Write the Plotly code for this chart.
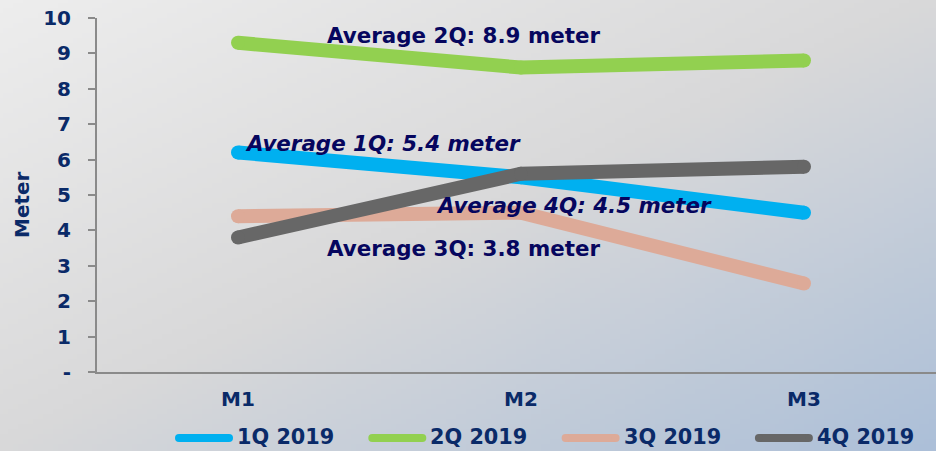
import base64
import struct
import zlib

import plotly.graph_objects as go

# ---- data -------------------------------------------------------------
months = ["M1", "M2", "M3"]
series_names = ["1Q 2019", "2Q 2019", "3Q 2019", "4Q 2019"]
q1_values = [6.2, 5.5, 4.5]
q2_values = [9.3, 8.6, 8.8]
q3_values = [4.4, 4.5, 2.5]
q4_values = [3.8, 5.6, 5.8]
y_tick_values = [0, 1, 2, 3, 4, 5, 6, 7, 8, 9, 10]
y_tick_labels = ["-", "1", "2", "3", "4", "5", "6", "7", "8", "9", "10"]
average_labels = [
    "Average 2Q: 8.9 meter",
    "Average 1Q: 5.4 meter",
    "Average 4Q: 4.5 meter",
    "Average 3Q: 3.8 meter",
]

# ---- styling ----------------------------------------------------------
W, H = 936, 451
series_colors = ["#00B0F0", "#92D050", "#DDAA98", "#676767"]
label_color = "#0A2A68"
note_color = "#06065E"
axis_color = "#8A8A8A"
font_family = "DejaVu Sans, Verdana, sans-serif"


def frac_x(x):
    return x / W


def frac_y(y):
    return 1 - y / H


def gradient_png(w, h):
    """Diagonal background: light grey top-left -> grey -> soft blue bottom-right."""
    stops = [(0.0, (237, 237, 237)), (0.5, (216, 216, 217)), (1.0, (172, 191, 216))]

    def colour(t):
        for (t0, c0), (t1, c1) in zip(stops, stops[1:]):
            if t <= t1:
                f = (t - t0) / (t1 - t0)
                return bytes(int(round(a + (b - a) * f)) for a, b in zip(c0, c1))
        return bytes(stops[-1][1])

    raw = b""
    for j in range(h):
        row = b"\x00"
        for i in range(w):
            t = (i / (w - 1) + j / (h - 1)) / 2
            row += colour(t)
        raw += row

    def chunk(tag, data):
        c = struct.pack(">I", len(data)) + tag + data
        return c + struct.pack(">I", zlib.crc32(tag + data) & 0xFFFFFFFF)

    png = b"\x89PNG\r\n\x1a\n"
    png += chunk(b"IHDR", struct.pack(">IIBBBBB", w, h, 8, 2, 0, 0, 0))
    png += chunk(b"IDAT", zlib.compress(raw, 9))
    png += chunk(b"IEND", b"")
    return "data:image/png;base64," + base64.b64encode(png).decode()


fig = go.Figure()

for name, vals, col in zip(series_names, [q1_values, q2_values, q3_values, q4_values], series_colors):
    fig.add_trace(
        go.Scatter(
            x=months,
            y=vals,
            name=name,
            mode="lines+markers",
            line=dict(color=col, width=14),
            marker=dict(color=col, size=14, line=dict(width=0)),
            showlegend=False,
            hoverinfo="x+y+name",
        )
    )

# plot area in pixels
left, right, top, bottom = 97, 936, 18, 372
cat_step = 283.0
x0_cat = -(238 - left) / cat_step
x1_cat = (right - 238) / cat_step

fig.update_layout(
    width=W,
    height=H,
    margin=dict(l=0, r=0, t=0, b=0, autoexpand=False),
    paper_bgcolor="#D8D8D8",
    plot_bgcolor="rgba(0,0,0,0)",
    font=dict(family=font_family, color=label_color, size=20),
    showlegend=False,
    xaxis=dict(
        domain=[frac_x(left), 1.0],
        type="category",
        range=[x0_cat, x1_cat],
        showline=True,
        linecolor=axis_color,
        linewidth=2,
        showgrid=False,
        zeroline=False,
        ticks="",
        ticklabelstandoff=8,
        tickfont=dict(size=20, color=label_color, weight="bold"),
        automargin=False,
        fixedrange=True,
    ),
    yaxis=dict(
        domain=[frac_y(bottom), frac_y(top)],
        range=[0, 10],
        tickvals=y_tick_values,
        ticktext=y_tick_labels,
        showline=True,
        linecolor=axis_color,
        linewidth=2,
        ticks="outside",
        ticklen=7,
        tickwidth=2,
        tickcolor=axis_color,
        ticklabelstandoff=13,
        showgrid=False,
        zeroline=False,
        tickfont=dict(size=20, color=label_color, weight="bold"),
        automargin=False,
        fixedrange=True,
    ),
    # full-figure overlay measured in pixels, used for notes and the key
    xaxis2=dict(domain=[0, 1], range=[0, W], visible=False, anchor="y2", fixedrange=True),
    yaxis2=dict(domain=[0, 1], range=[H, 0], visible=False, anchor="x2", fixedrange=True),
)

fig.add_layout_image(
    dict(
        source=gradient_png(188, 90),
        xref="paper",
        yref="paper",
        x=0,
        y=1,
        sizex=1,
        sizey=1,
        xanchor="left",
        yanchor="top",
        sizing="stretch",
        layer="below",
    )
)

# y axis title
fig.add_annotation(
    text="Meter",
    xref="x2",
    yref="y2",
    x=22,
    y=205,
    textangle=-90,
    showarrow=False,
    font=dict(size=20, color=label_color, weight="bold"),
)

# average notes: (left x px, centre y px, italic?)
note_places = [(325, 35, False), (243, 143, True), (434, 205, True), (325, 248, False)]
for text, (nx, ny, ital) in zip(average_labels, note_places):
    fig.add_annotation(
        text=text,
        xref="x2",
        yref="y2",
        x=nx,
        y=ny,
        xanchor="left",
        yanchor="middle",
        showarrow=False,
        font=dict(size=21.4, color=note_color, weight="bold", style="italic" if ital else "normal"),
    )

# custom key with thick rounded swatches
leg_y = 437
leg_start = 175
leg_step = 193.3
key_len = 58
key_w = 8
for i, (name, col) in enumerate(zip(series_names, series_colors)):
    sx = leg_start + i * leg_step
    r = key_w / 2
    fig.add_shape(
        type="line",
        xref="x2",
        yref="y2",
        x0=sx + r,
        x1=sx + key_len - r,
        y0=leg_y + 1,
        y1=leg_y + 1,
        line=dict(color=col, width=key_w),
    )
    for cx in (sx + r, sx + key_len - r):
        fig.add_shape(
            type="circle",
            xref="x2",
            yref="y2",
            x0=cx - r,
            x1=cx + r,
            y0=leg_y + 1 - r,
            y1=leg_y + 1 + r,
            fillcolor=col,
            line=dict(width=0),
        )
    fig.add_annotation(
        text=name,
        xref="x2",
        yref="y2",
        x=sx + key_len + 2,
        y=leg_y,
        xanchor="left",
        yanchor="middle",
        showarrow=False,
        font=dict(size=20.8, color=label_color, weight="bold"),
    )

fig.write_html("out.html")
